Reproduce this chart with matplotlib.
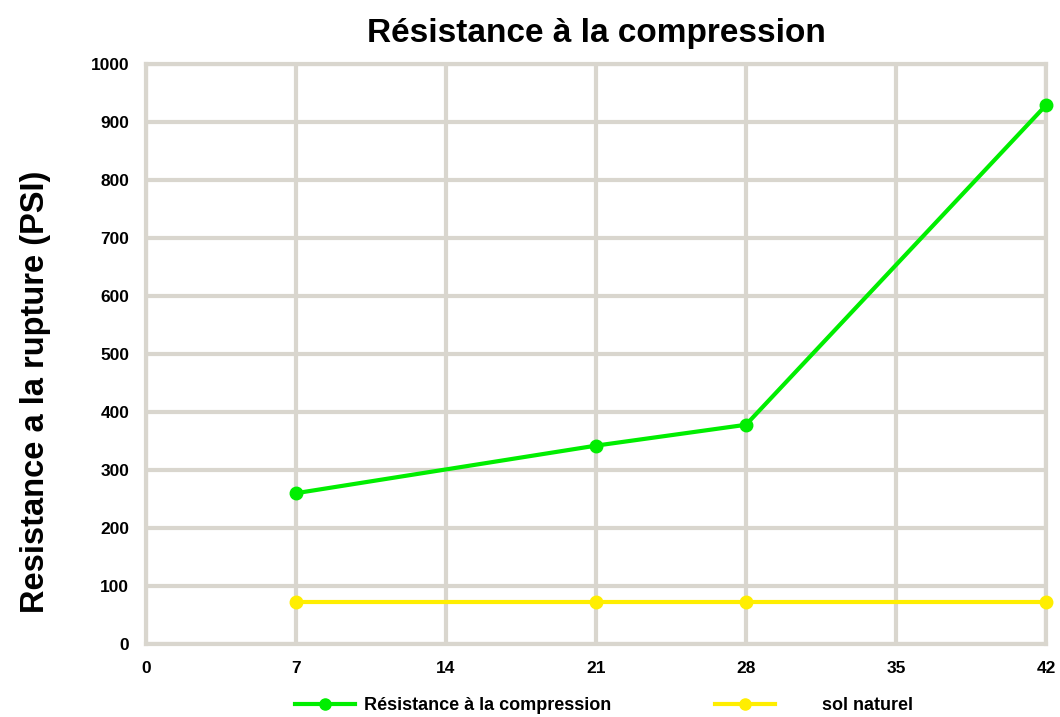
import matplotlib
matplotlib.use("Agg")
import matplotlib.pyplot as plt
from matplotlib.lines import Line2D

days = [7, 21, 28, 42]
resistance = [260, 342, 378, 929]
sol_naturel = [72, 72, 72, 72]
x_ticks = [0, 7, 14, 21, 28, 35, 42]
y_ticks = [0, 100, 200, 300, 400, 500, 600, 700, 800, 900, 1000]

plt.rcParams['font.family'] = ['Liberation Sans', 'DejaVu Sans']
grid_c = '#d9d6ce'

fig = plt.figure(figsize=(10.6, 7.17), dpi=100)
ax = fig.add_axes([146/1060, 1-644/717, 900/1060, 580/717])

ax.plot(days, resistance, color='#00ee00', lw=3, marker='o', ms=9, zorder=3, clip_on=False)
ax.plot(days, sol_naturel, color='#ffee00', lw=3, marker='o', ms=9, zorder=3, clip_on=False)

ax.set_xlim(0, 42)
ax.set_ylim(0, 1000)
ax.set_xticks(x_ticks)
ax.set_yticks(y_ticks)
ax.grid(True, color=grid_c, lw=3)
ax.set_axisbelow(True)
for s in ax.spines.values():
    s.set_color(grid_c)
    s.set_linewidth(3)
ax.tick_params(length=0, labelsize=12.5, pad=12)
for lab in ax.get_xticklabels() + ax.get_yticklabels():
    lab.set_fontweight('bold')

ax.set_title('Résistance à la compression', fontsize=24, fontweight='bold', pad=16)
ax.set_ylabel('Resistance a la rupture (PSI)', fontsize=23.5, fontweight='bold')
ax.yaxis.set_label_coords(-0.106, 0.435)

h1 = Line2D([], [], color='#00ee00', lw=3, marker='o', ms=8)
h2 = Line2D([], [], color='#ffee00', lw=3, marker='o', ms=8)
leg1 = fig.legend([h1], ['Résistance à la compression'], loc='center left',
                  bbox_to_anchor=(279/1060, 1-706/717), frameon=False,
                  handlelength=3.3, handletextpad=0.5, prop={'size': 13, 'weight': 'bold'})
leg2 = fig.legend([h2], ['sol naturel'], loc='center left',
                  bbox_to_anchor=(699/1060, 1-706/717), frameon=False,
                  handlelength=3.3, handletextpad=2.6, prop={'size': 13, 'weight': 'bold'})

fig.savefig('out.png', dpi=100)
